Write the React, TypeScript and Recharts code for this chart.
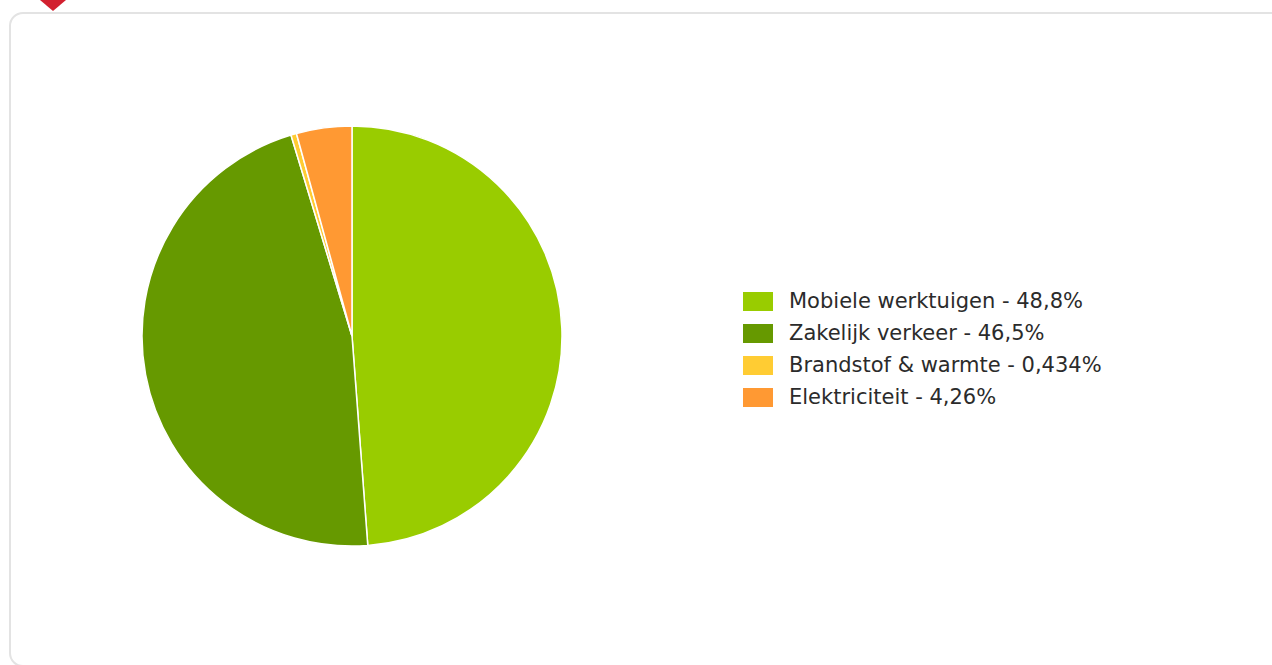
import { Cell, Legend, Pie, PieChart } from "recharts";

const categories = ["Mobiele werktuigen", "Zakelijk verkeer", "Brandstof & warmte", "Elektriciteit"];
const shares = [48.8, 46.5, 0.434, 4.26];
const shareLabels = ["48,8%", "46,5%", "0,434%", "4,26%"];
const colors = ["#99cc00", "#669900", "#ffcc33", "#ff9933"];

const data = categories.map((name, i) => ({ name, value: shares[i], label: shareLabels[i] }));

function LegendList() {
  return (
    <div style={{ fontFamily: "'DejaVu Sans', sans-serif", fontSize: 21, color: "#2b2b2b", lineHeight: "32px" }}>
      {data.map((d, i) => (
        <div key={d.name} style={{ display: "flex", alignItems: "center", height: 32 }}>
          <span
            style={{
              display: "inline-block",
              width: 30,
              height: 19,
              background: colors[i],
              marginRight: 16,
              flexShrink: 0,
            }}
          />
          <span style={{ whiteSpace: "nowrap" }}>
            {d.name} - {d.label}
          </span>
        </div>
      ))}
    </div>
  );
}

export default function App() {
  return (
    <div style={{ position: "fixed", left: 0, top: 0, width: 1272, height: 665, overflow: "hidden", background: "#fff" }}>
      <div
        style={{
          position: "absolute",
          left: 9,
          top: 12,
          width: 1300,
          height: 655,
          border: "2px solid #e3e3e3",
          borderRadius: 14,
          boxSizing: "border-box",
        }}
      />
      <div style={{ position: "absolute", left: 0, top: 0 }}>
        <PieChart width={1272} height={665} margin={{ top: 0, right: 0, bottom: 0, left: 0 }}>
          <Pie
            data={data}
            dataKey="value"
            nameKey="name"
            cx={352}
            cy={336}
            outerRadius={210}
            startAngle={90}
            endAngle={-270}
            stroke="#ffffff"
            strokeWidth={1.5}
            isAnimationActive={false}
          >
            {data.map((d, i) => (
              <Cell key={d.name} fill={colors[i]} />
            ))}
          </Pie>
          <Legend
            layout="vertical"
            content={() => <LegendList />}
            wrapperStyle={{ left: 743, top: 285, width: 440 }}
          />
        </PieChart>
      </div>
      <div
        style={{
          position: "absolute",
          left: 40,
          top: 0,
          width: 0,
          height: 0,
          borderLeft: "13px solid transparent",
          borderRight: "13px solid transparent",
          borderTop: "11px solid #d2202f",
          zIndex: 5,
        }}
      />
    </div>
  );
}
